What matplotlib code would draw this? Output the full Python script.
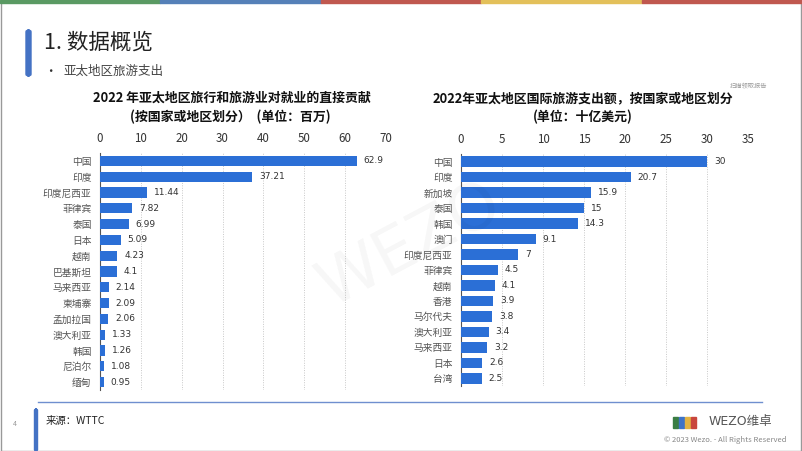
import matplotlib
matplotlib.use("Agg")
import matplotlib.pyplot as plt
from matplotlib.patches import Rectangle, FancyBboxPatch
from matplotlib.lines import Line2D

plt.rcParams['font.family'] = ['Noto Sans CJK SC', 'DejaVu Sans']

# ---- data ----
left_cats = ["中国", "印度", "印度尼西亚", "菲律宾", "泰国", "日本", "越南", "巴基斯坦",
             "马来西亚", "柬埔寨", "孟加拉国", "澳大利亚", "韩国", "尼泊尔", "缅甸"]
left_vals = [62.9, 37.21, 11.44, 7.82, 6.99, 5.09, 4.23, 4.1, 2.14, 2.09, 2.06, 1.33, 1.26, 1.08, 0.95]
left_labels = ["62.9", "37.21", "11.44", "7.82", "6.99", "5.09", "4.23", "4.1", "2.14", "2.09",
               "2.06", "1.33", "1.26", "1.08", "0.95"]
left_ticks = [0, 10, 20, 30, 40, 50, 60, 70]

right_cats = ["中国", "印度", "新加坡", "泰国", "韩国", "澳门", "印度尼西亚", "菲律宾", "越南",
              "香港", "马尔代夫", "澳大利亚", "马来西亚", "日本", "台湾"]
right_vals = [30, 20.7, 15.9, 15, 14.3, 9.1, 7, 4.5, 4.1, 3.9, 3.8, 3.4, 3.2, 2.6, 2.5]
right_labels = ["30", "20.7", "15.9", "15", "14.3", "9.1", "7", "4.5", "4.1", "3.9", "3.8",
                "3.4", "3.2", "2.6", "2.5"]
right_ticks = [0, 5, 10, 15, 20, 25, 30, 35]

W, H = 802, 451
fig = plt.figure(figsize=(W / 100, H / 100), dpi=100)
fig.patch.set_facecolor("white")

BAR = "#2b6fd6"

def px_axes(x0, y0, x1, y1):
    return fig.add_axes([x0 / W, 1 - y1 / H, (x1 - x0) / W, (y1 - y0) / H])

def draw(ax, cats, vals, labels, ticks, xmax, h):
    n = len(cats)
    y = list(range(n))
    ax.barh(y, vals, height=h, color=BAR, zorder=3)
    ax.set_ylim(n - 0.5, -0.5)
    ax.set_xlim(0, xmax)
    ax.set_xticks(ticks)
    ax.xaxis.tick_top()
    ax.tick_params(axis='x', length=0, labelsize=8.3, colors="#333333", pad=6)
    ax.set_yticks(y)
    ax.set_yticklabels(cats, fontsize=7, color="#555555")
    ax.tick_params(axis='y', length=0, pad=6)
    for s in ["top", "right", "bottom"]:
        ax.spines[s].set_visible(False)
    ax.spines["left"].set_color("#555555")
    ax.spines["left"].set_linewidth(0.8)
    ax.grid(axis='x', linestyle=(0, (1, 1.5)), color="#c8c8c8", linewidth=0.7, zorder=0)
    ax.set_axisbelow(True)
    span = xmax * 0.012
    for yi, v, lab in zip(y, vals, labels):
        ax.text(v + span * 2, yi, lab, va="center", ha="left", fontsize=6.5, color="#333333", zorder=4,
                family=["DejaVu Sans"])

ax1 = px_axes(100, 153, 386, 390)
draw(ax1, left_cats, left_vals, left_labels, left_ticks, 70, 0.65)
ax2 = px_axes(461, 154, 748, 386)
draw(ax2, right_cats, right_vals, right_labels, right_ticks, 35, 0.68)

# ---- titles ----
fig.text(232 / W, 1 - 98 / H, "2022 年亚太地区旅行和旅游业对就业的直接贡献", ha="center", va="center",
         fontsize=9.3, fontweight="bold", color="#111111")
fig.text(230 / W, 1 - 117 / H, "(按国家或地区划分）  (单位：百万)", ha="center", va="center",
         fontsize=9.3, fontweight="bold", color="#111111")
fig.text(583 / W, 1 - 98 / H, "2022年亚太地区国际旅游支出额，按国家或地区划分", ha="center", va="center",
         fontsize=9.3, fontweight="bold", color="#111111")
fig.text(583 / W, 1 - 117 / H, "(单位：十亿美元)", ha="center", va="center",
         fontsize=9.3, fontweight="bold", color="#111111")

# ---- header ----
top_colors = ["#5a9a63", "#5580b8", "#c0584f", "#e3c05a", "#c0584f"]
for i, c in enumerate(top_colors):
    fig.patches.append(Rectangle((i * 160.4 / W, 1 - 3 / H), 160.4 / W, 3 / H,
                                 transform=fig.transFigure, color=c, zorder=5))
fig.patches.append(FancyBboxPatch((26 / W, 1 - 76 / H), 5 / W, 46 / H,
                                  boxstyle="round,pad=0,rounding_size=0.004",
                                  transform=fig.transFigure, color="#4472c4", zorder=5))
fig.text(44 / W, 1 - 43 / H, "1. 数据概览", ha="left", va="center", fontsize=15.5, color="#222222")
fig.text(44 / W, 1 - 71 / H, "•", ha="left", va="center", fontsize=9, color="#333333")
fig.text(63 / W, 1 - 71 / H, "亚太地区旅游支出", ha="left", va="center", fontsize=9, color="#444444")
fig.text(730 / W, 1 - 85 / H, "扫描领取报告", ha="left", va="center", fontsize=4.5, color="#999999")

# ---- watermark ----
fig.text(410 / W, 1 - 245 / H, "WEZO", ha="center", va="center", fontsize=46, color="#000000",
         alpha=0.035, rotation=28, family=["DejaVu Sans"])

# ---- footer ----
fig.lines.append(Line2D([38 / W, 762 / W], [1 - 402 / H, 1 - 402 / H], transform=fig.transFigure,
                        color="#6f8fcf", linewidth=1))
fig.patches.append(FancyBboxPatch((34.5 / W, 0), 3 / W, 42 / H, boxstyle="round,pad=0,rounding_size=0.003",
                                  transform=fig.transFigure, color="#4472c4", zorder=5))
fig.text(15 / W, 1 - 424 / H, "4", ha="center", va="center", fontsize=5, color="#999999")
fig.text(46 / W, 1 - 421 / H, "来源：WTTC", ha="left", va="center", fontsize=7.5, color="#222222")
fig.text(772 / W, 1 - 422 / H, "WEZO维卓", ha="right", va="center", fontsize=9, color="#555555",
         family=["DejaVu Sans", "Noto Sans CJK SC"])
for dx, c in [(0, "#3a7d44"), (6, "#3f73c6"), (12, "#e3b341"), (18, "#c9463d")]:
    fig.patches.append(Rectangle(((673 + dx) / W, 1 - 428 / H), 5 / W, 11 / H,
                                 transform=fig.transFigure, color=c, zorder=5))
fig.text(786 / W, 1 - 440 / H, "© 2023 Wezo. - All Rights Reserved", ha="right", va="center",
         fontsize=5.5, color="#888888")

# border
fig.patches.append(Rectangle((0.5 / W, 0.5 / H), (W - 1.5) / W, (H - 1) / H, transform=fig.transFigure,
                             fill=False, edgecolor="#999999", linewidth=1))

fig.savefig("out.png", dpi=100)
